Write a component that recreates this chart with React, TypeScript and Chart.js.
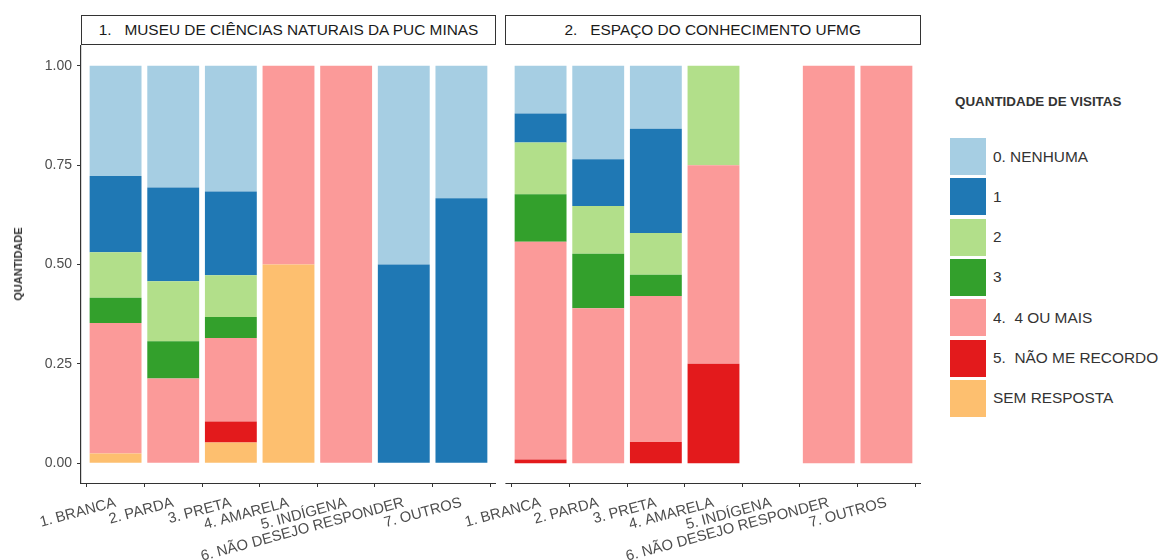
import React, { useEffect, useRef } from "react";
import { Chart, registerables } from "chart.js";

Chart.register(...registerables);

const categories = [
  "1. BRANCA",
  "2. PARDA",
  "3. PRETA",
  "4. AMARELA",
  "5. INDÍGENA",
  "6. NÃO DESEJO RESPONDER",
  "7. OUTROS",
];

const levels = [
  "0. NENHUMA",
  "1",
  "2",
  "3",
  "4.  4 OU MAIS",
  "5.  NÃO ME RECORDO",
  "SEM RESPOSTA",
];
const levelColors = ["#A6CEE3", "#1F78B4", "#B2DF8A", "#33A02C", "#FB9A99", "#E31A1C", "#FDBF6F"];

const panelTitles = ["1.   MUSEU DE CIÊNCIAS NATURAIS DA PUC MINAS", "2.   ESPAÇO DO CONHECIMENTO UFMG"];

const yTicks = [0, 0.25, 0.5, 0.75, 1];

// Panel 1 — PUC Minas (proportions per category)
const pucNenhuma = [0.277, 0.306, 0.316, 0, 0, 0.5, 0.333];
const puc1 = [0.192, 0.236, 0.211, 0, 0, 0.5, 0.667];
const puc2 = [0.115, 0.151, 0.105, 0, 0, 0, 0];
const puc3 = [0.063, 0.094, 0.053, 0, 0, 0, 0];
const puc4ouMais = [0.329, 0.213, 0.21, 0.5, 1, 0, 0];
const pucNaoRecordo = [0, 0, 0.053, 0, 0, 0, 0];
const pucSemResposta = [0.024, 0, 0.052, 0.5, 0, 0, 0];

// Panel 2 — Espaço do Conhecimento UFMG
const ufmgNenhuma = [0.12, 0.235, 0.158, 0, 0, 0, 0];
const ufmg1 = [0.073, 0.118, 0.263, 0, 0, 0, 0];
const ufmg2 = [0.13, 0.12, 0.105, 0.25, 0, 0, 0];
const ufmg3 = [0.12, 0.137, 0.053, 0, 0, 0, 0];
const ufmg4ouMais = [0.548, 0.39, 0.368, 0.5, 0, 1, 1];
const ufmgNaoRecordo = [0.009, 0, 0.053, 0.25, 0, 0, 0];
const ufmgSemResposta = [0, 0, 0, 0, 0, 0, 0];

const pucSeries = [pucNenhuma, puc1, puc2, puc3, puc4ouMais, pucNaoRecordo, pucSemResposta];
const ufmgSeries = [ufmgNenhuma, ufmg1, ufmg2, ufmg3, ufmg4ouMais, ufmgNaoRecordo, ufmgSemResposta];

const FONT = "'Liberation Sans', Arial, sans-serif";
const AXIS_COLOR = "#333333";

const xAxisLinePlugin = {
  id: "xAxisLine",
  afterDraw(chart: any) {
    const { ctx, chartArea } = chart;
    const y = Math.round(chartArea.bottom) + 0.5;
    ctx.save();
    ctx.strokeStyle = AXIS_COLOR;
    ctx.lineWidth = 1.2;
    ctx.beginPath();
    ctx.moveTo(chartArea.left - 0.6, y);
    ctx.lineTo(chartArea.right, y);
    ctx.stroke();
    ctx.restore();
  },
};

function buildDatasets(series: number[][]) {
  // stack bottom-up: SEM RESPOSTA first, NENHUMA last
  const order = [6, 5, 4, 3, 2, 1, 0];
  return order.map((li) => ({
    label: levels[li],
    backgroundColor: levelColors[li],
    borderWidth: 0,
    categoryPercentage: 1,
    barPercentage: 0.9,
    data: series[li]
      .map((v, i) => (v ? { x: i + 1, y: v } : null))
      .filter((d) => d !== null),
  }));
}

function makeConfig(series: number[][], showY: boolean, padLeft: number, xHeight: number, yWidth: number): any {
  return {
    type: "bar",
    data: { datasets: buildDatasets(series) },
    plugins: [xAxisLinePlugin],
    options: {
      animation: false,
      responsive: false,
      layout: { padding: { top: 1, left: padLeft, right: 0, bottom: 0 } },
      plugins: { legend: { display: false }, tooltip: { enabled: false } },
      scales: {
        x: {
          type: "linear",
          stacked: true,
          min: 0.4,
          max: 7.6,
          offset: false,
          afterBuildTicks: (s: any) => {
            s.ticks = categories.map((_, i) => ({ value: i + 1 }));
          },
          afterFit: (s: any) => {
            s.height = xHeight;
            s.paddingLeft = 0;
            s.paddingRight = 0;
          },
          ticks: {
            autoSkip: false,
            minRotation: 15,
            maxRotation: 15,
            padding: 7,
            color: "#4d4d4d",
            font: { family: FONT, size: 14.8 },
            callback: (v: any) => categories[Math.round(v) - 1] ?? "",
          },
          grid: {
            display: true,
            drawOnChartArea: false,
            drawTicks: true,
            tickLength: 4,
            color: AXIS_COLOR,
            lineWidth: 1,
          },
          border: { display: false },
        },
        y: {
          display: showY,
          stacked: true,
          min: -0.05,
          max: 1.05,
          afterBuildTicks: (s: any) => {
            s.ticks = yTicks.map((v) => ({ value: v }));
          },
          afterFit: (s: any) => {
            s.width = yWidth;
            s.paddingTop = 0;
            s.paddingBottom = 0;
          },
          ticks: {
            padding: 5,
            color: "#4d4d4d",
            font: { family: FONT, size: 14 },
            callback: (v: any) => Number(v).toFixed(2),
          },
          grid: {
            display: true,
            drawOnChartArea: false,
            drawTicks: true,
            tickLength: 4,
            color: AXIS_COLOR,
            lineWidth: 1,
          },
          border: { display: true, color: AXIS_COLOR, width: 1.2 },
        },
      },
    },
  };
}

function Panel(props: { series: number[][]; showY: boolean; left: number; width: number; padLeft: number; yWidth: number }) {
  const ref = useRef<HTMLCanvasElement | null>(null);
  useEffect(() => {
    if (!ref.current) return;
    const chart = new Chart(ref.current, makeConfig(props.series, props.showY, props.padLeft, 77, props.yWidth));
    return () => chart.destroy();
  }, []);
  return (
    <canvas
      ref={ref}
      width={props.width}
      height={515}
      style={{ position: "absolute", left: props.left, top: 45, width: props.width, height: 515 }}
    />
  );
}

const stripStyle = (left: number, width: number): React.CSSProperties => ({
  position: "absolute",
  left,
  top: 15,
  width,
  height: 30,
  boxSizing: "border-box",
  border: "1.6px solid #333",
  background: "#fff",
  display: "flex",
  alignItems: "center",
  justifyContent: "center",
  fontFamily: FONT,
  fontSize: 14,
  color: "#1a1a1a",
  whiteSpace: "pre",
});

export default function App() {
  return (
    <div
      style={{
        position: "fixed",
        left: 0,
        top: 0,
        width: 1165,
        height: 560,
        background: "#fff",
        overflow: "hidden",
        fontFamily: FONT,
      }}
    >
      <Panel series={pucSeries} showY={true} left={0} width={496} padLeft={0} yWidth={81} />
      <Panel series={ufmgSeries} showY={false} left={440} width={481} padLeft={66} yWidth={0} />

      <div style={stripStyle(81, 415)}>
        <span style={{ display: "inline-block", transform: "scaleX(1.1)" }}>{panelTitles[0]}</span>
      </div>
      <div style={stripStyle(505, 416)}>
        <span style={{ display: "inline-block", transform: "scaleX(1.1)" }}>{panelTitles[1]}</span>
      </div>

      <div
        style={{
          position: "absolute",
          left: 18,
          top: 264,
          transform: "translate(-50%, -50%) rotate(-90deg)",
          fontWeight: "bold",
          fontSize: 11,
          color: "#333",
          whiteSpace: "nowrap",
        }}
      >
        QUANTIDADE
      </div>

      <div
        style={{
          position: "absolute",
          left: 955,
          top: 94,
          fontWeight: "bold",
          fontSize: 13,
          color: "#333",
          whiteSpace: "nowrap",
          transformOrigin: "left center",
          transform: "scaleX(1.03)",
        }}
      >
        QUANTIDADE DE VISITAS
      </div>

      {levels.map((lv, i) => (
        <React.Fragment key={lv}>
          <div
            style={{
              position: "absolute",
              left: 950,
              top: 138 + i * 40.3,
              width: 36,
              height: 37,
              background: levelColors[i],
            }}
          />
          <div
            style={{
              position: "absolute",
              left: 993,
              top: 138 + i * 40.3,
              height: 37,
              display: "flex",
              alignItems: "center",
              fontSize: 14,
              color: "#333",
              whiteSpace: "pre",
              transformOrigin: "left center",
              transform: "scaleX(1.1)",
            }}
          >
            {lv}
          </div>
        </React.Fragment>
      ))}
    </div>
  );
}
